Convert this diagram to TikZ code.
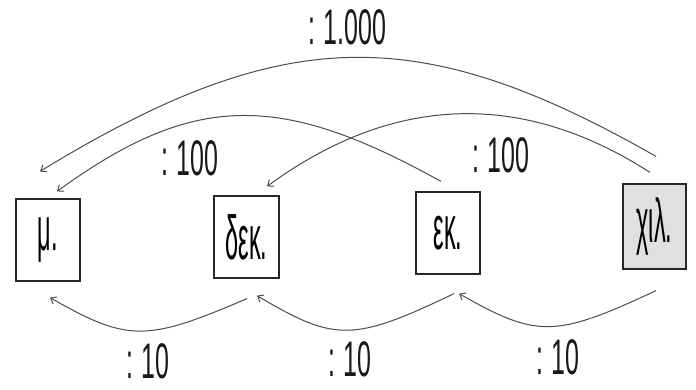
\documentclass[tikz,border=0pt]{standalone}
\usepackage{fontspec}
\setmainfont{Liberation Sans}
\newfontfamily\numfont[FakeStretch=0.5]{Liberation Sans}
\newfontfamily\boxfont[FakeStretch=0.38]{Liberation Sans}
\usetikzlibrary{arrows.meta}
\tikzset{
  unitbox/.style={draw=black!85, line width=1.2pt, minimum width=64pt, minimum height=82pt, inner sep=0pt,
    font=\boxfont\fontsize{62}{62}\selectfont},
  conv/.style={draw=black!70, line width=1pt, -{Straight Barb[length=5pt,width=8pt]}},
  lbl/.style={inner sep=0pt, font=\numfont\fontsize{50}{50}\selectfont, text=black!90}
}
\begin{document}
\begin{tikzpicture}[x=1pt,y=-1pt]
\path[use as bounding box, fill=white] (0,0) rectangle (696,389);
% boxes
\node[unitbox] (mu) at (48,240) {μ.};
\node[unitbox, minimum width=65pt] (dek) at (246.5,237) {δεκ.};
\node[unitbox] (ek) at (448,233) {εκ.};
\node[unitbox, minimum width=63pt, minimum height=85pt, fill=black!12] (xil) at (654.5,226.5) {χιλ.};
% top arcs
\draw[conv] ([shift={(1.5,-27)}]xil.north) .. controls (420,22) and (285,22) .. ([shift={(-8,-27)}]mu.north);
\draw[conv] ([shift={(-7,-10)}]ek.north) .. controls (280,92) and (194,92) .. ([shift={(9,-7)}]mu.north);
\draw[conv] ([shift={(-4.5,-11)}]xil.north) .. controls (525,92) and (396,92) .. ([shift={(20.5,-9)}]dek.north);
% bottom arcs
\draw[conv] ([shift={(0.5,20)}]dek.south) .. controls (146,342) and (128,342) .. ([shift={(2,16)}]mu.south);
\draw[conv] ([shift={(6,19)}]ek.south) .. controls (353,342) and (335,342) .. ([shift={(10.5,17)}]dek.south);
\draw[conv] ([shift={(1.5,21)}]xil.south) .. controls (555,338) and (537,338) .. ([shift={(11,19)}]ek.south);
% labels
\node[lbl] (l1000) at (347,27) {:\,1.000};
\node[lbl] (l100a) at (190,158) {:\,100};
\node[lbl] (l100b) at (501,155) {:\,100};
\node[lbl] (l10a) at (148,361) {:\,10};
\node[lbl] (l10b) at (350,359) {:\,10};
\node[lbl] (l10c) at (558,357) {:\,10};
\end{tikzpicture}
\end{document}
